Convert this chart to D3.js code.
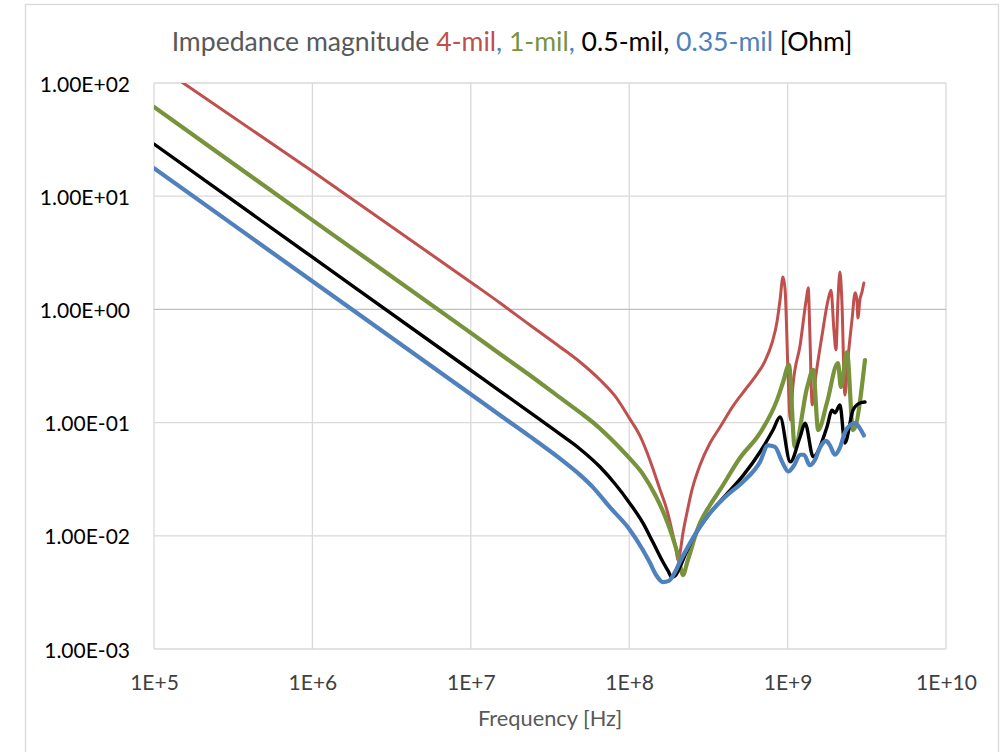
<!DOCTYPE html>
<html>
<head>
<meta charset="utf-8">
<script src="https://cdn.jsdelivr.net/npm/d3@7"></script>
<style>
  html, body { margin: 0; padding: 0; background: #fff; }
  svg { display: block; font-family: Lato, "Open Sans", "Noto Sans", sans-serif; }
</style>
</head>
<body>
<svg id="chart" width="1002" height="752"></svg>
<script>
// Axis ticks (log decades) and their printed labels
const xTickValues = [1e5, 1e6, 1e7, 1e8, 1e9, 1e10];
const xTickLabels = ["1E+5", "1E+6", "1E+7", "1E+8", "1E+9", "1E+10"];
const yTickValues = [1e-3, 1e-2, 1e-1, 1e0, 1e1, 1e2];
const yTickLabels = ["1.00E-03", "1.00E-02", "1.00E-01", "1.00E+00", "1.00E+01", "1.00E+02"];

// Impedance magnitude |Z| [Ohm] versus frequency [Hz], one list per dielectric thickness
const mil4 = [
  [1e5, 150], [1e6, 16.6], [1e7, 1.74], [1.53e7, 1.14], [2.36e7, 0.728], [3.66e7, 0.466],
  [4.89e7, 0.343], [6.55e7, 0.238], [8.13e7, 0.172], [1.0e8, 0.110], [1.17e8, 0.0762],
  [1.35e8, 0.0468], [1.56e8, 0.0259], [1.73e8, 0.0169], [1.86e8, 0.0112], [1.97e8, 0.0078],
  [2.03e8, 0.0061], [2.09e8, 0.0070], [2.19e8, 0.0108], [2.32e8, 0.0162], [2.49e8, 0.0254],
  [2.8e8, 0.0422], [3.24e8, 0.066], [3.74e8, 0.091], [4.52e8, 0.140], [5.38e8, 0.194],
  [6.23e8, 0.253], [7.2e8, 0.350], [7.97e8, 0.505], [8.57e8, 0.774], [8.96e8, 1.21],
  [9.35e8, 1.93], [9.64e8, 1.5], [1.01e9, 0.238], [1.04e9, 0.105], [1.08e9, 0.21],
  [1.2e9, 0.485], [1.31e9, 1.21], [1.35e9, 1.55], [1.38e9, 0.66], [1.43e9, 0.143],
  [1.51e9, 0.263], [1.65e9, 0.59], [1.8e9, 1.21], [1.88e9, 1.48], [1.96e9, 0.66],
  [2.02e9, 0.44], [2.08e9, 1.21], [2.14e9, 2.14], [2.2e9, 1.21], [2.3e9, 0.175],
  [2.4e9, 0.357], [2.55e9, 0.81], [2.67e9, 1.40], [2.74e9, 1.21], [2.78e9, 0.84],
  [2.86e9, 1.21], [2.95e9, 1.43], [3.03e9, 1.71]
];
const mil1 = [
  [1e5, 61.4], [1e6, 6.15], [1e7, 0.62], [1.53e7, 0.404], [2.36e7, 0.262], [3.66e7, 0.166],
  [4.89e7, 0.123], [6.08e7, 0.097], [7.57e7, 0.0731], [1.0e8, 0.0487], [1.22e8, 0.0351],
  [1.46e8, 0.0229], [1.68e8, 0.0150], [1.86e8, 0.0102], [2.03e8, 0.0068], [2.19e8, 0.0045],
  [2.32e8, 0.0058], [2.42e8, 0.0070], [2.6e8, 0.0098], [2.8e8, 0.013], [3.24e8, 0.0187],
  [3.74e8, 0.0254], [5.0e8, 0.0487], [6.7e8, 0.081], [8.57e8, 0.158], [9.35e8, 0.226],
  [1.02e9, 0.323], [1.11e9, 0.061], [1.33e9, 0.206], [1.45e9, 0.292], [1.56e9, 0.086],
  [1.77e9, 0.149], [2.08e9, 0.336], [2.17e9, 0.206], [2.37e9, 0.42], [2.59e9, 0.086],
  [3.08e9, 0.357]
];
const mil05 = [
  [1e5, 28.9], [1e6, 2.89], [1e7, 0.29], [1.53e7, 0.19], [2.36e7, 0.123], [3.66e7, 0.079],
  [4.89e7, 0.0585], [6.55e7, 0.0405], [8.13e7, 0.0288], [1.0e8, 0.0197], [1.22e8, 0.013],
  [1.41e8, 0.0088], [1.63e8, 0.0059], [1.76e8, 0.0049], [1.86e8, 0.0043], [1.97e8, 0.0045],
  [2.09e8, 0.0053], [2.29e8, 0.0071], [2.53e8, 0.0095], [2.8e8, 0.012], [3.24e8, 0.0159],
  [4.03e8, 0.0225], [5.23e8, 0.034], [6.7e8, 0.055], [8.09e8, 0.086], [8.96e8, 0.112],
  [1.04e9, 0.045], [1.2e9, 0.075], [1.29e9, 0.099], [1.45e9, 0.05], [1.77e9, 0.091],
  [1.91e9, 0.129], [1.99e9, 0.122], [2.14e9, 0.143], [2.3e9, 0.066], [2.59e9, 0.129],
  [2.86e9, 0.149], [3.08e9, 0.152]
];
const mil035 = [
  [1e5, 17.7], [1e6, 1.77], [1e7, 0.178], [1.53e7, 0.116], [2.36e7, 0.0755], [3.66e7, 0.048],
  [4.89e7, 0.0345], [5.91e7, 0.0268], [7.57e7, 0.0178], [1.0e8, 0.0115], [1.22e8, 0.0075],
  [1.35e8, 0.0058], [1.48e8, 0.0045], [1.63e8, 0.0039], [1.78e8, 0.0040], [1.95e8, 0.0048],
  [2.09e8, 0.0059], [2.29e8, 0.0075], [2.53e8, 0.0096], [2.8e8, 0.012], [3.24e8, 0.0159],
  [4.03e8, 0.022], [5.23e8, 0.030], [6.7e8, 0.045], [7.52e8, 0.063], [8.32e8, 0.061],
  [9.23e8, 0.045], [1.01e9, 0.037], [1.10e9, 0.042], [1.2e9, 0.052], [1.27e9, 0.052],
  [1.38e9, 0.042], [1.49e9, 0.047], [1.6e9, 0.06], [1.75e9, 0.069], [1.85e9, 0.063],
  [1.99e9, 0.052], [2.14e9, 0.06], [2.3e9, 0.082], [2.48e9, 0.095], [2.67e9, 0.099],
  [2.86e9, 0.089], [3.03e9, 0.077]
];

const seriesNames = ["4-mil", "1-mil", "0.5-mil", "0.35-mil"];
const seriesData = [mil4, mil1, mil05, mil035];
const seriesColors = ["#C0504D", "#77933C", "#000000", "#4F81BD"];
const seriesWidths = [3, 4.2, 3.4, 4.2];

const svg = d3.select("#chart");
const plot = { left: 154, top: 83, right: 946, bottom: 649 };

const x = d3.scaleLog().domain([1e5, 1e10]).range([plot.left, plot.right]);
const y = d3.scaleLog().domain([1e-3, 1e2]).range([plot.bottom, plot.top]);

// Chart area frame
svg.append("rect")
  .attr("x", 25.5).attr("y", 4.5)
  .attr("width", 973).attr("height", 800)
  .attr("fill", "#fff").attr("stroke", "#D9D9D9").attr("stroke-width", 1.3);

// Title with per-series coloured names
const title = svg.append("text")
  .attr("x", 512).attr("y", 51)
  .attr("text-anchor", "middle")
  .attr("font-size", 26.6)
  .attr("fill", "#595959")
  .attr("xml:space", "preserve");
const titleParts = [
  ["Impedance magnitude ", "#595959"],
  [seriesNames[0], seriesColors[0]], [", ", seriesColors[3]],
  [seriesNames[1], seriesColors[1]], [", ", seriesColors[3]],
  [seriesNames[2] + ", ", "#000000"],
  [seriesNames[3], seriesColors[3]],
  [" [Ohm]", "#000000"]
];
title.selectAll("tspan").data(titleParts).join("tspan")
  .attr("fill", d => d[1])
  .style("white-space", "pre")
  .text(d => d[0]);

// Gridlines (the horizontal axis crosses at 1 Ohm and is drawn slightly darker)
const grid = svg.append("g");
grid.selectAll("line.v").data(xTickValues).join("line")
  .attr("class", "v")
  .attr("x1", d => x(d)).attr("x2", d => x(d))
  .attr("y1", plot.top).attr("y2", plot.bottom)
  .attr("stroke", "#D9D9D9").attr("stroke-width", 1.3);
grid.selectAll("line.h").data(yTickValues).join("line")
  .attr("class", "h")
  .attr("x1", plot.left).attr("x2", plot.right)
  .attr("y1", d => y(d)).attr("y2", d => y(d))
  .attr("stroke", d => d === 1 ? "#BFBFBF" : "#D9D9D9")
  .attr("stroke-width", 1.3);

// Axes (labels only)
const xAxis = svg.append("g")
  .attr("transform", `translate(0,${plot.bottom})`)
  .call(d3.axisBottom(x).tickValues(xTickValues)
    .tickFormat((d, i) => xTickLabels[i]).tickSize(0));
xAxis.select(".domain").remove();
xAxis.selectAll("text")
  .attr("y", 41).attr("dy", 0)
  .attr("font-family", "Lato, 'Open Sans', sans-serif")
  .attr("font-size", 21).attr("fill", "#404040");

const yAxis = svg.append("g")
  .attr("transform", `translate(${plot.left},0)`)
  .call(d3.axisLeft(y).tickValues(yTickValues)
    .tickFormat((d, i) => yTickLabels[i]).tickSize(0));
yAxis.select(".domain").remove();
yAxis.selectAll("text")
  .attr("x", -24).attr("dy", 8)
  .attr("font-family", "Lato, 'Open Sans', sans-serif")
  .attr("font-size", 21).attr("fill", "#000");

// X axis title
svg.append("text")
  .attr("x", (plot.left + plot.right) / 2).attr("y", 726)
  .attr("text-anchor", "middle")
  .attr("font-size", 21.8).attr("fill", "#595959")
  .text("Frequency [Hz]");

// Series lines clipped to the plot area
svg.append("clipPath").attr("id", "plotClip")
  .append("rect")
  .attr("x", plot.left).attr("y", plot.top)
  .attr("width", plot.right - plot.left).attr("height", plot.bottom - plot.top);

const line = d3.line()
  .x(d => x(d[0]))
  .y(d => y(d[1]))
  .curve(d3.curveMonotoneX);

svg.append("g").attr("clip-path", "url(#plotClip)")
  .selectAll("path").data(seriesData).join("path")
  .attr("d", line)
  .attr("fill", "none")
  .attr("stroke", (d, i) => seriesColors[i])
  .attr("stroke-width", (d, i) => seriesWidths[i])
  .attr("stroke-linejoin", "round")
  .attr("stroke-linecap", "round");
</script>
</body>
</html>
